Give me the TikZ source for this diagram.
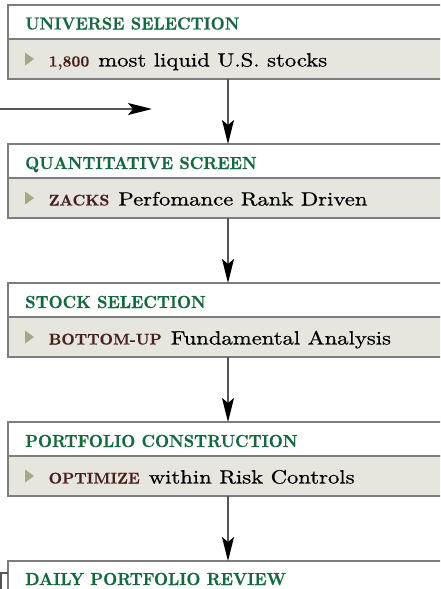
\documentclass[tikz,border=0pt]{standalone}
\usepackage{fontspec}
\usetikzlibrary{arrows.meta}
\newfontfamily\bodyfont{lmroman10-regular.otf}[FakeStretch=1.18, FakeBold=0.7]
\newfontfamily\kwfont{lmroman10-bold.otf}[FakeBold=0.4]
\newfontfamily\hdrfont{lmroman10-bold.otf}[FakeStretch=0.93, FakeBold=0.4]
\definecolor{greenc}{RGB}{22,104,62}
\definecolor{brownc}{RGB}{72,32,32}
\definecolor{bulletc}{RGB}{168,166,134}
\definecolor{fillc}{RGB}{230,230,222}
\definecolor{bordc}{RGB}{125,125,128}
\definecolor{arrc}{RGB}{85,85,85}
\begin{document}
\begin{tikzpicture}[x=1pt,y=-1pt,
  hdrbox/.style={draw=bordc, line width=1.5pt, fill=white, minimum width=440pt, minimum height=34pt, anchor=north west, inner sep=0pt, outer sep=0pt},
  graybox/.style={draw=bordc, line width=1.5pt, fill=fillc, minimum width=440pt, minimum height=40pt, anchor=north west, inner sep=0pt, outer sep=0pt},
  hdrtext/.style={anchor=base west, inner sep=0pt, text=greenc, font=\hdrfont\fontsize{17.5}{19}\selectfont},
  bodytext/.style={anchor=base west, inner sep=0pt, font=\bodyfont\fontsize{19.2}{21}\selectfont},
  arr/.style={draw=arrc, line width=1.8pt, -{Stealth[length=24pt,width=12pt,inset=5pt,color=black]}},
  fbline/.style={draw=arrc, line width=1.5pt}
]
\newcommand\kwd[1]{{\kwfont\fontsize{15.5}{17}\selectfont\color{brownc}#1}\hspace{1.5pt}}
\useasboundingbox (0,0) rectangle (440,589);
\clip (0,0) rectangle (440,589);

% boxes
\node[hdrbox] (h1) at (8,5) {};
\node[graybox] (g1) at (8,39) {};
\node[hdrbox] (h2) at (8,144) {};
\node[graybox] (g2) at (8,178) {};
\node[hdrbox] (h3) at (8,283) {};
\node[graybox] (g3) at (8,317) {};
\node[hdrbox] (h4) at (8,422) {};
\node[graybox] (g4) at (8,456) {};
\node[hdrbox] (h5) at (8,561) {};
\node[graybox] (g5) at (8,595) {};

% bullets
\foreach \t in {5,144,283,422}{
  \fill[bulletc] (25,\t+47.5) -- (34,\t+54) -- (25,\t+60.5) -- cycle;
}

% header texts
\node[hdrtext] (t1) at (25,29.5) {UNIVERSE SELECTION};
\node[hdrtext] (t2) at (25,169) {QUANTITATIVE SCREEN};
\node[hdrtext] (t3) at (25,308) {STOCK SELECTION};
\node[hdrtext] (t4) at (25,447) {PORTFOLIO CONSTRUCTION};
\node[hdrtext] (t5) at (25,585) {DAILY PORTFOLIO REVIEW};

% body texts
\node[bodytext] (b1) at (48.5,66.5) {\kwd{1,800} most liquid U.S. stocks};
\node[bodytext] (b2) at (48.5,205.5) {\kwd{ZACKS} Perfomance Rank Driven};
\node[bodytext] (b3) at (48.5,344.5) {\kwd{BOTTOM-UP} Fundamental Analysis};
\node[bodytext] (b4) at (48.5,483.5) {\kwd{OPTIMIZE} within Risk Controls};

% arrows
\draw[arr] (g1.south) -- (h2.north);
\draw[arr] (g2.south) -- (h3.north);
\draw[arr] (g3.south) -- (h4.north);
\draw[arr] (g4.south) -- (h5.north);

% feedback loop
\coordinate (inS) at (0,109);
\coordinate (inE) at (152,109);
\draw[arr] (inS) -- (inE);
\coordinate (fbA) at (1,573);
\coordinate (fbB) at (1,600);
\draw[fbline] (h5.west |- fbA) -- (fbA) -- (fbB);
\end{tikzpicture}
\end{document}
